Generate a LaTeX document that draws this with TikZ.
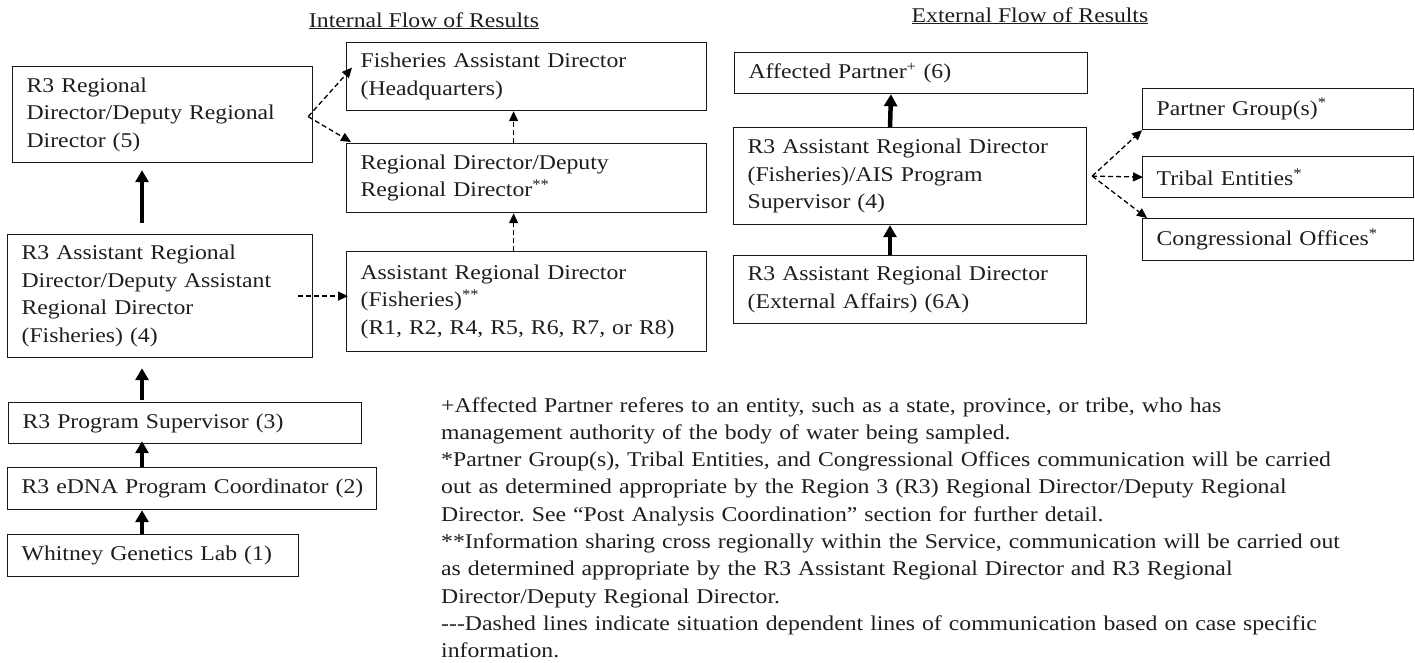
\documentclass[tikz,border=0pt]{standalone}
\usepackage{fontspec}
\setmainfont{Liberation Serif}[FakeStretch=1.13]
\usepackage{tikz}
\usetikzlibrary{
  positioning,
  arrows.meta,
  calc
}
\frenchspacing
\definecolor{linecol}{RGB}{25,25,25}
\definecolor{textcol}{RGB}{30,30,30}
\tikzset{
  flowbox/.style={
    draw=linecol, line width=1.2pt, anchor=north west,
    align=left, inner xsep=14pt, inner ysep=0pt,
    text=textcol, font=\fontsize{21}{27.5}\selectfont
  },
  thickarrow/.style={
    -{Triangle[length=12pt,width=13pt]}, line width=4.5pt, draw=black
  },
  dasharrow/.style={
    -{Triangle[length=10pt,width=9pt]}, line width=1.3pt, draw=black,
    dash pattern=on 5pt off 3pt
  },
  titletext/.style={
    text=textcol, font=\fontsize{21}{25}\selectfont, inner sep=0pt
  },
  notetext/.style={
    text=textcol, font=\fontsize{21}{27.3}\selectfont, inner sep=0pt,
    align=left, text width=960pt
  }
}
\begin{document}
\begin{tikzpicture}[x=1pt, y=-1pt]
  \useasboundingbox (0,0) rectangle (1415,662);

  % titles
  \node[titletext, anchor=base] (inttitle) at (424,27) {\underline{Internal Flow of Results}};
  \node[titletext, anchor=base] (exttitle) at (1030,22) {\underline{External Flow of Results}};

  % internal flow, left column
  \node[flowbox, text width=272pt, minimum height=96pt] (rd5) at (12,66) {
    R3 Regional\\
    Director/Deputy Regional\\
    Director (5)
  };
  \node[flowbox, text width=277pt, minimum height=123pt] (ard4) at (7,234) {
    R3 Assistant Regional\\
    Director/Deputy Assistant\\
    Regional Director\\
    (Fisheries) (4)
  };
  \node[flowbox, text width=325pt, minimum height=41pt] (ps3) at (8,402) {\mbox{R3 Program Supervisor (3)}};
  \node[flowbox, text width=341pt, minimum height=42pt] (edna2) at (7,467) {\mbox{R3 eDNA Program Coordinator (2)}};
  \node[flowbox, text width=263pt, minimum height=42pt] (lab1) at (7,534) {\mbox{Whitney Genetics Lab (1)}};

  % internal flow, other regions
  \node[flowbox, text width=332pt, minimum height=68pt] (hq) at (346,42) {
    Fisheries Assistant Director\\
    (Headquarters)
  };
  \node[flowbox, text width=332pt, minimum height=69pt] (rd) at (346,143) {
    Regional Director/Deputy\\
    Regional Director\textsuperscript{**}
  };
  \node[flowbox, text width=332pt, minimum height=100pt] (ard) at (346,251) {
    Assistant Regional Director\\
    (Fisheries)\textsuperscript{**}\\
    (R1, R2, R4, R5, R6, R7, or R8)
  };

  % external flow
  \node[flowbox, text width=325pt, minimum height=41pt] (partner6) at (734,52) {Affected Partner\textsuperscript{+} (6)};
  \node[flowbox, text width=325pt, minimum height=97pt] (ais4) at (733,127) {
    R3 Assistant Regional Director\\
    (Fisheries)/AIS Program\\
    Supervisor (4)
  };
  \node[flowbox, text width=325pt, minimum height=68pt] (ea6a) at (733,255) {
    R3 Assistant Regional Director\\
    (External Affairs) (6A)
  };
  \node[flowbox, text width=243pt, minimum height=41pt] (groups) at (1142,88) {Partner Group(s)\textsuperscript{*}};
  \node[flowbox, text width=243pt, minimum height=41pt] (tribal) at (1142,156) {Tribal Entities\textsuperscript{*}};
  \node[flowbox, text width=243pt, minimum height=42pt] (congress) at (1142,218) {Congressional Offices\textsuperscript{*}};

  % notes
  \node[notetext, anchor=base west] (notes) at (441,412) {
    +Affected Partner referes to an entity, such as a state, province, or tribe, who has\\
    management authority of the body of water being sampled.\\
    {*}Partner Group(s), Tribal Entities, and Congressional Offices communication will be carried\\
    out as determined appropriate by the Region 3 (R3) Regional Director/Deputy Regional\\
    Director. See “Post Analysis Coordination” section for further detail.\\
    {**}Information sharing cross regionally within the Service, communication will be carried out\\
    as determined appropriate by the R3 Assistant Regional Director and R3 Regional\\
    Director/Deputy Regional Director.\\
    -{}-{}-Dashed lines indicate situation dependent lines of communication based on case specific\\
    information.
  };

  % solid lines
  \draw[thickarrow] ([xshift=135pt, yshift=11pt]ard4.north west) -- ([xshift=130pt, yshift=-7pt]rd5.south west);
  \draw[thickarrow] ([xshift=134pt, yshift=2pt]ps3.north west) -- ([xshift=135pt, yshift=-10pt]ard4.south west);
  \draw[thickarrow] ([xshift=135pt]edna2.north west) -- ([xshift=134pt, yshift=3pt]ps3.south west);
  \draw[thickarrow] ([xshift=135pt]lab1.north west) -- ([xshift=135pt]edna2.south west);
  \draw[thickarrow] ([xshift=157pt]ais4.north west) -- ([xshift=157pt]partner6.south west);
  \draw[thickarrow] ([xshift=157pt]ea6a.north west) -- ([xshift=157pt]ais4.south west);

  % dashed lines
  \draw[dasharrow] ([xshift=-5pt, yshift=-2pt]rd5.east) -- ([xshift=6pt, yshift=9pt]hq.west);
  \draw[dasharrow] ([xshift=-5pt, yshift=-2pt]rd5.east) -- ([xshift=5pt, yshift=1pt]rd.north west);
  \draw[dasharrow] ([xshift=-15pt]ard4.east) -- ([xshift=2pt]ard4.east -| ard.west);
  \draw[dasharrow] ([xshift=-13pt]rd.north) -- ([xshift=-13pt]hq.south);
  \draw[dasharrow] ([xshift=-13pt]ard.north) -- ([xshift=-13pt]rd.south);
  \draw[dasharrow] ([xshift=5pt]ais4.east) -- (groups.south west);
  \draw[dasharrow] ([xshift=5pt]ais4.east) -- ([xshift=1pt]tribal.west);
  \draw[dasharrow] ([xshift=5pt]ais4.east) -- ([xshift=5pt]congress.north west);
\end{tikzpicture}
\end{document}
